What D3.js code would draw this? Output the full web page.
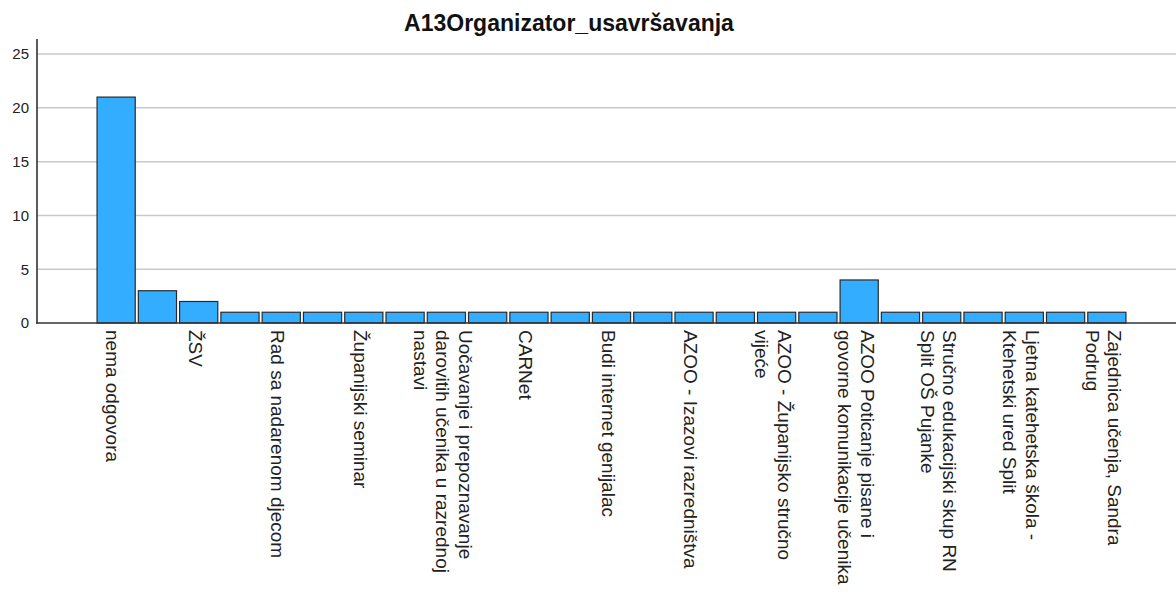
<!DOCTYPE html>
<meta charset="utf-8">
<style>
body {
  margin: 0;
  background: #fff;
  font-family: "Liberation Sans", Arial, sans-serif;
}
.bar {
  fill: #33adff;
  stroke: #2b2b2b;
  stroke-width: 1.2;
}
.grid line {
  stroke: #c9c9c9;
  stroke-width: 1.5;
}
.axis--y text {
  font-size: 15px;
  fill: #222;
}
.xlabel {
  font-size: 19px;
  fill: #222;
}
</style>
<body>
<svg width="1176" height="595"></svg>
<script src="https://d3js.org/d3.v7.min.js"></script>
<script>
// categories (only every other label is printed on the axis, the rest could not be read)
var categories = [
  "nema odgovora", "",
  "ŽSV", "",
  "Rad sa nadarenom djecom", "",
  "Županijski seminar", "",
  "Uočavanje i prepoznavanje\ndarovitih učenika u razrednoj\nnastavi", "",
  "CARNet", "",
  "Budi internet genijalac", "",
  "AZOO - Izazovi razredništva", "",
  "AZOO - Županijsko stručno\nvijeće", "",
  "AZOO Poticanje pisane i\ngovorne komunikacije učenika", "",
  "Stručno edukacijski skup RN\nSplit OŠ Pujanke", "",
  "Ljetna katehetska škola -\nKtehetski ured Split", "",
  "Zajednica učenja, Sandra\nPodrug"
];
var counts = [21, 3, 2, 1, 1, 1, 1, 1, 1, 1, 1, 1, 1, 1, 1, 1, 1, 1, 4, 1, 1, 1, 1, 1, 1];
var yTicks = [0, 5, 10, 15, 20, 25];
var title = "A13Organizator_usavršavanja";

var svg = d3.select("svg");

var x = d3.scaleBand()
    .domain(d3.range(categories.length))
    .range([95.5, 1127.5])
    .paddingInner(0.075)
    .paddingOuter(0.0375);

var y = d3.scaleLinear().domain([0, 26.4]).range([323, 39]);

// gridlines
svg.append("g")
    .attr("class", "grid")
  .selectAll("line")
  .data(yTicks.filter(function(d) { return d > 0; }))
  .enter().append("line")
    .attr("x1", 37)
    .attr("x2", 1176)
    .attr("y1", function(d) { return y(d); })
    .attr("y2", function(d) { return y(d); });

// y axis labels
var yAxis = svg.append("g")
    .attr("class", "axis axis--y")
    .attr("transform", "translate(37,0)")
    .call(d3.axisLeft(y).tickValues(yTicks).tickSize(0).tickPadding(8));
yAxis.select(".domain").remove();

// bars
svg.selectAll(".bar")
  .data(counts)
  .enter().append("rect")
    .attr("class", "bar")
    .attr("x", function(d, i) { return x(i); })
    .attr("y", function(d) { return y(d); })
    .attr("width", x.bandwidth())
    .attr("height", function(d) { return y(0) - y(d); });

// axis lines
svg.append("line")
    .attr("x1", 37).attr("x2", 37)
    .attr("y1", 39).attr("y2", 323.5)
    .attr("stroke", "#333").attr("stroke-width", 1.6);
svg.append("line")
    .attr("x1", 36).attr("x2", 1176)
    .attr("y1", 323).attr("y2", 323)
    .attr("stroke", "#333").attr("stroke-width", 1.6);

// rotated category labels
var lineH = 22.5;
svg.append("g").selectAll("text")
  .data(categories.map(function(c, i) { return {label: c, i: i}; })
    .filter(function(d) { return d.label !== ""; }))
  .enter().append("text")
    .attr("class", "xlabel")
    .attr("transform", function(d) {
      return "translate(" + (x(d.i) + x.bandwidth() / 2) + ",330) rotate(90)";
    })
    .each(function(d) {
      var lines = d.label.split("\n"), n = lines.length;
      var t = d3.select(this);
      lines.forEach(function(l, k) {
        t.append("tspan")
          .attr("x", 0)
          .attr("y", 10 - ((n - 1) / 2 - k) * lineH)
          .attr("dominant-baseline", "hanging")
          .attr("dy", "-0.72em")
          .text(l);
      });
    });

// title
svg.append("text")
    .attr("x", 569)
    .attr("y", 31)
    .attr("text-anchor", "middle")
    .style("font-weight", "bold")
    .style("font-size", "23px")
    .style("fill", "#111")
    .text(title);
</script>
</body>
